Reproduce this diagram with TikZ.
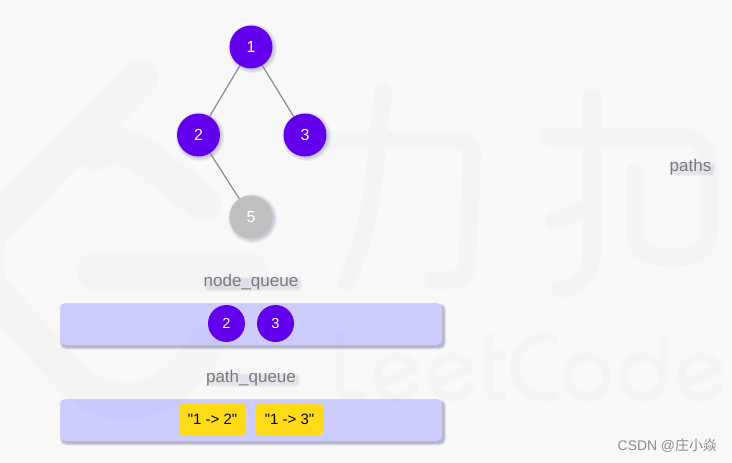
\documentclass[tikz,border=0pt]{standalone}
\usepackage{fontspec}
\setmainfont{Liberation Sans}
\newfontfamily\tagfont{Liberation Sans}
\newfontfamily\cjkfont{Noto Sans CJK SC}
\definecolor{bgc}{HTML}{F8F8F8}
\definecolor{vio}{HTML}{6200EE}
\definecolor{greyn}{HTML}{BFBFBF}
\definecolor{barc}{HTML}{CCCCFF}
\definecolor{yel}{HTML}{FFDA17}
\definecolor{labc}{HTML}{7A7A7A}
\definecolor{shc}{HTML}{70709A}
\tikzset{
  wm/.style={draw=black,draw opacity=.016,line cap=round,line join=round},
  circ/.style={circle,minimum size=43pt,inner sep=0pt,text=white,font=\fontsize{16}{16}\selectfont},
  qcirc/.style={circle,fill=vio,minimum size=37pt,inner sep=0pt,text=white,font=\fontsize{14.5}{14.5}\selectfont},
  bar/.style={rounded corners=5pt,fill=barc,minimum width=382pt,minimum height=42pt,inner sep=0pt},
  tag/.style={rounded corners=3pt,fill=yel,minimum width=67pt,minimum height=31pt,inner sep=0pt,text=black,font=\tagfont\fontsize{15}{15}\selectfont},
  lab/.style={text=labc,font=\fontsize{17}{17}\selectfont,inner sep=0pt},
  softsh/.style={fill=shc,fill opacity=#1,draw=none},
  softsh/.default=.07,
  edge/.style={draw=black!48,line width=1pt},
  edgesh/.style={draw=shc,draw opacity=.18,line width=1.6pt},
  credit/.style={text=black!45,inner sep=0pt,font=\fontsize{13.9}{13.9}\selectfont},
}
% soft shadow behind a circle
\newcommand{\circsh}[2]{%
  \foreach \r in {21.5,22.5,23.5,24.5}{\fill[softsh=.09] (#1+1.5,#2+1.5) circle[radius=\r pt];}}
% soft shadow behind a bar
\newcommand{\barsh}[2]{%
  \foreach \g in {0,.6,1.2,1.8}{\fill[softsh=.15,rounded corners=5pt] (60+2-\g,#1+2.5-\g) rectangle (442+2+\g,#2+2.5+\g);}}
% soft shadow behind a label
\newcommand{\labsh}[4]{%
  \foreach \g in {0,1,2}{\fill[softsh=.05,rounded corners=3pt] (#1+2-\g,#2+2-\g) rectangle (#3+2+\g,#4+2+\g);}}
\begin{document}
\begin{tikzpicture}[x=1pt,y=-1pt]
\useasboundingbox (0,0) rectangle (732,463);
\fill[bgc] (0,0) rectangle (732,463);
% queues
\barsh{303}{345}
\barsh{399}{441}
\node[bar] (b1) at (251,324) {};
\node[bar] (b2) at (251,420) {};
% watermark: logo
\draw[wm,line width=37pt]
  (140,78) -- (-5,225) .. controls (-18,240) and (-18,280) .. (-5,295)
  -- (72,378) .. controls (110,415) and (170,410) .. (205,345)
  (203,203) -- (155,165) .. controls (135,148) and (110,140) .. (95,152);
\draw[wm,line width=41pt] (97,271) -- (247,271);
% watermark: characters
\draw[wm,line width=18pt]
  (383,92) -- (378,140) .. controls (372,200) and (368,235) .. (346,282)
  (332,140) -- (455,140) .. controls (466,140) and (472,146) .. (472,155)
  -- (467,265) .. controls (467,276) and (460,280) .. (450,280) -- (433,280)
  (549,137) -- (680,137) .. controls (698,137) and (709,148) .. (709,165)
  -- (709,232) .. controls (709,248) and (698,257) .. (682,257) -- (662,257)
  .. controls (645,257) and (635,248) .. (635,232) -- (635,172)
  (592,97) -- (592,250) .. controls (592,275) and (578,287) .. (560,289)
  (554,221) -- (592,207);
% watermark: LeetCode
\draw[wm,line width=8.5pt]
  (340,337) -- (340,388) .. controls (340,393) and (343,395) .. (348,395) -- (363,395)
  (415,385.5) arc[start angle=-25,end angle=-335,radius=20pt] -- (379,385)
  (470,385.5) arc[start angle=-25,end angle=-335,radius=20pt] -- (434,385)
  (489,337) -- (489,387) .. controls (489,394) and (494,397) .. (502,397)
  (489,355) -- (502,355)
  (555,339) arc[start angle=70,end angle=290,radius=30pt]
  (607,377) arc[start angle=0,end angle=360,radius=20pt]
  (663,377) arc[start angle=0,end angle=360,radius=20pt]
  (664,337) -- (664,377)
  (719,385.5) arc[start angle=-25,end angle=-335,radius=20pt] -- (683,385);
% tree
\circsh{251}{47}
\circsh{198.5}{135}
\circsh{305}{135}
\circsh{251}{217}
\node[circ,fill=vio] (n1) at (251,47) {1};
\node[circ,fill=vio] (n2) at (198.5,135) {2};
\node[circ,fill=vio] (n3) at (305,135) {3};
\node[circ,fill=greyn] (n5) at (251,217) {5};
\draw[edgesh,shift={(1,1)}] (n1) -- (n2);
\draw[edgesh,shift={(1,1)}] (n1) -- (n3);
\draw[edgesh,shift={(1,1)}] (n2) -- (n5);
\draw[edge] (n1) -- (n2);
\draw[edge] (n1) -- (n3);
\draw[edge] (n2) -- (n5);
% labels
\labsh{671}{162}{711}{172}
\labsh{205}{277}{298}{287}
\labsh{207}{373}{296}{383}
\node[lab] (lp) at (690.5,167.5) {paths};
\node[lab] (ln) at (251,282) {node\_queue};
\node[lab] (lq) at (251,378) {path\_queue};
\node[qcirc] (q2) at (226.5,323.5) {2};
\node[qcirc] (q3) at (275.5,323.5) {3};
\node[tag] (t1) at (212.5,419.5) {"1 -> 2"};
\node[tag] (t2) at (289.5,419.5) {"1 -> 3"};
\node[credit,anchor=east] (csdn) at (717,446) {CSDN @{\cjkfont 庄小焱}};
\end{tikzpicture}
\end{document}
